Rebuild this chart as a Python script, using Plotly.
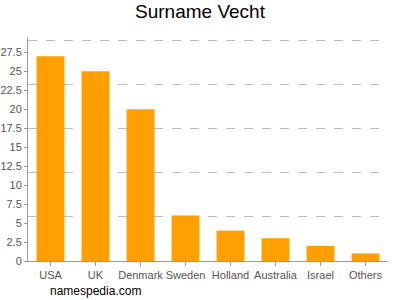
import plotly.graph_objects as go

categories = ["USA", "UK", "Denmark", "Sweden", "Holland", "Australia", "Israel", "Others"]
values = [27, 25, 20, 6, 4, 3, 2, 1]
y_ticks = [0, 2.5, 5, 7.5, 10, 12.5, 15, 17.5, 20, 22.5, 25, 27.5]
y_tick_labels = ["0", "2.5", "5", "7.5", "10", "12.5", "15", "17.5", "20", "22.5", "25", "27.5"]
grid_top = 29.1
y_max = 29.4
grid_vals = [grid_top * k / 5 for k in range(1, 6)]

fig = go.Figure()
fig.add_trace(go.Bar(
    x=categories, y=values,
    marker=dict(color="#FFA000", line=dict(width=0)),
    hoverinfo="skip",
))
fig.add_trace(go.Scatter(x=[categories[0]], y=[0], yaxis="y2", mode="markers",
                         marker=dict(opacity=0), hoverinfo="skip", showlegend=False))

fig.update_layout(
    width=400, height=300,
    margin=dict(l=28, r=12, t=38, b=39, autoexpand=False),
    paper_bgcolor="white", plot_bgcolor="white",
    showlegend=False,
    bargap=0.38,
    title=dict(text="Surname Vecht", x=0.5, xanchor="center", y=0.963, yanchor="middle",
               font=dict(family="Liberation Sans, Arial, sans-serif", size=19, color="#000")),
    font=dict(family="Liberation Sans, Arial, sans-serif", size=11, color="#555"),
    xaxis=dict(
        range=[-0.5, 7.5], showline=True, linecolor="#999", linewidth=1,
        ticks="outside", ticklen=4, tickcolor="#999", showgrid=False,
        tickangle=0, automargin=False,
        tickfont=dict(size=11, color="#555"), fixedrange=True,
    ),
    yaxis=dict(
        range=[0, y_max], tickvals=y_ticks, ticktext=y_tick_labels,
        showline=True, linecolor="#999", linewidth=1, automargin=False,
        ticks="outside", ticklen=3, tickcolor="#999", showgrid=False, zeroline=False,
        tickfont=dict(size=11, color="#555"), fixedrange=True,
    ),
    yaxis2=dict(
        range=[0, y_max], overlaying="y", side="left", tickvals=grid_vals,
        showticklabels=False, showgrid=True, gridcolor="#bbb", griddash="dash",
        gridwidth=1, zeroline=False, showline=False, ticks="", fixedrange=True,
        automargin=False,
    ),
    annotations=[dict(
        text="namespedia.com", xref="paper", yref="paper", x=0.055, y=-0.1345,
        xanchor="left", yanchor="middle", showarrow=False,
        font=dict(family="Liberation Sans, Arial, sans-serif", size=12, color="#000"),
    )],
)
fig.write_html("out.html")
